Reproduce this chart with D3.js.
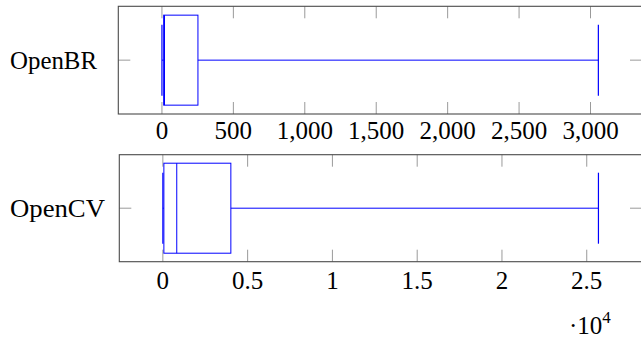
<!DOCTYPE html>
<html><head><meta charset="utf-8">
<script src="https://cdn.jsdelivr.net/npm/d3@7"></script>
<style>html,body{margin:0;padding:0;background:#fff;}svg{display:block;}</style>
</head><body>
<svg id="chart" width="641" height="339"></svg>
<script>
// Data
const categories = ["OpenBR", "OpenCV"];
const lowerWhisker = [0, 0];
const lowerQuartile = [12, 60];
const medians = [18, 820];
const upperQuartile = [252, 4010];
const upperWhisker = [3055, 25690];
const tickValuesBR = [0, 500, 1000, 1500, 2000, 2500, 3000];
const tickValuesCV = [0, 5000, 10000, 15000, 20000, 25000];
const tickScaleCV = 1e4;

const svg = d3.select("#chart");
const font = "'Liberation Serif', 'Times New Roman', serif";
const blue = "#0000ff";

const panels = [
  {top: 6.3, bottom: 114, left: 118.3, right: 642, ticks: tickValuesBR, fmt: d3.format(","), labelY: 138.5},
  {top: 154.7, bottom: 261.7, left: 119.3, right: 642, ticks: tickValuesCV, fmt: v => d3.format("")(v / tickScaleCV), labelY: 288.5}
];

panels.forEach((p, i) => {
  const lo = lowerWhisker[i], hi = upperWhisker[i];
  const ext = (hi - lo) * 0.1;
  const x = d3.scaleLinear().domain([lo - ext, hi + ext]).range([p.left, p.right]);
  const y = d3.scaleBand().domain([categories[i]]).range([p.top, p.bottom]);
  const cy = y(categories[i]) + y.bandwidth() / 2;
  const g = svg.append("g");

  // ticks (inside, top & bottom)
  const tl = 12;
  g.selectAll("line.tb").data(p.ticks).join("line")
    .attr("x1", d => x(d)).attr("x2", d => x(d))
    .attr("y1", p.bottom).attr("y2", p.bottom - tl)
    .attr("stroke", "#9a9a9a").attr("stroke-width", 1);
  g.selectAll("line.tt").data(p.ticks).join("line").attr("class", "tt")
    .attr("x1", d => x(d)).attr("x2", d => x(d))
    .attr("y1", p.top).attr("y2", p.top + tl)
    .attr("stroke", "#9a9a9a").attr("stroke-width", 1);
  // y ticks
  g.append("line").attr("x1", p.left).attr("x2", p.left + tl).attr("y1", cy).attr("y2", cy)
    .attr("stroke", "#9a9a9a").attr("stroke-width", 1);
  g.append("line").attr("x1", p.right).attr("x2", p.right - tl).attr("y1", cy).attr("y2", cy)
    .attr("stroke", "#9a9a9a").attr("stroke-width", 1);

  // box plot
  const bh = 45, wh = 35.5;
  g.append("line").attr("x1", x(upperQuartile[i])).attr("x2", x(upperWhisker[i]))
    .attr("y1", cy).attr("y2", cy).attr("stroke", blue).attr("stroke-width", 1);
  g.append("line").attr("x1", x(lowerWhisker[i])).attr("x2", x(lowerQuartile[i]))
    .attr("y1", cy).attr("y2", cy).attr("stroke", blue).attr("stroke-width", 1);
  [lowerWhisker[i], upperWhisker[i]].forEach(v => {
    g.append("line").attr("x1", x(v)).attr("x2", x(v))
      .attr("y1", cy - wh).attr("y2", cy + wh).attr("stroke", blue).attr("stroke-width", 1.2);
  });
  g.append("rect").attr("x", x(lowerQuartile[i])).attr("y", cy - bh)
    .attr("width", x(upperQuartile[i]) - x(lowerQuartile[i])).attr("height", 2 * bh)
    .attr("fill", "none").attr("stroke", blue).attr("stroke-width", 1);
  g.append("line").attr("x1", x(medians[i])).attr("x2", x(medians[i]))
    .attr("y1", cy - bh).attr("y2", cy + bh).attr("stroke", blue).attr("stroke-width", 1);

  // frame
  g.append("rect").attr("x", p.left).attr("y", p.top)
    .attr("width", p.right - p.left).attr("height", p.bottom - p.top)
    .attr("fill", "none").attr("stroke", "#4a4a4a").attr("stroke-width", 1.1);

  // tick labels
  g.selectAll("text.tl").data(p.ticks).join("text")
    .attr("x", d => x(d)).attr("y", p.labelY)
    .attr("text-anchor", "middle").attr("font-family", font).attr("font-size", 25)
    .attr("fill", "#000").text(d => p.fmt(d));

  // category label
  g.append("text").attr("x", 10).attr("y", cy + 8.5)
    .attr("font-family", font).attr("font-size", 25).attr("fill", "#000")
    .attr("textLength", i === 0 ? 87 : 95).attr("lengthAdjust", "spacingAndGlyphs")
    .text(categories[i]);
});

// scale factor label
const sc = svg.append("text").attr("x", 569).attr("y", 334)
  .attr("font-family", font).attr("font-size", 25).attr("fill", "#000");
sc.append("tspan").text("·10");
sc.append("tspan").attr("dy", -11).attr("font-size", 17).text("4");
</script>
</body></html>
